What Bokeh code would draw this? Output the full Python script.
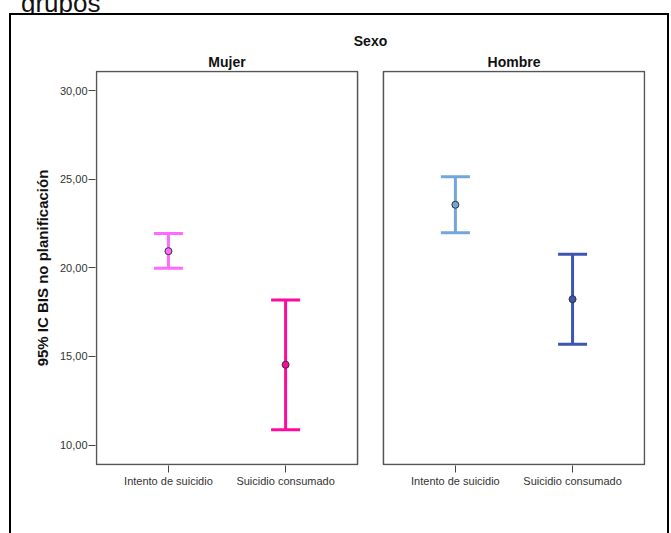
from bokeh.plotting import figure
from bokeh.layouts import column
from bokeh.models import (ColumnDataSource, Range1d, FixedTicker,
                          BoxAnnotation, LinearAxis, Div)
from bokeh.embed import file_html
from bokeh.resources import INLINE

# ---------------- data ----------------
sexos = ["Mujer", "Hombre"]
grupos = ["Intento de suicidio", "Suicidio consumado"]
sexo = ["Mujer", "Mujer", "Hombre", "Hombre"]
grupo = ["Intento de suicidio", "Suicidio consumado",
         "Intento de suicidio", "Suicidio consumado"]
media = [20.94, 14.53, 23.56, 18.23]
ic_inferior = [19.97, 10.86, 21.98, 15.69]
ic_superior = [21.94, 18.18, 25.14, 20.77]
y_ticks = [10, 15, 20, 25, 30]
y_tick_labels = ["10,00", "15,00", "20,00", "25,00", "30,00"]
colores = ["#FF6BFF", "#FF0A9C", "#73A6DA", "#3D55AE"]

titulo_grupo = "Sexo"
titulo_y = "95% IC BIS no planificación"
texto_previo = "grupos"

# ---------------- layout constants ----------------
FONT = "Liberation Sans"
HALF = 0.614        # half-width of a panel beyond its outer categories
GP = 0.449          # extra gap between the two panels (category units)
EPS_X = 0.0085      # ~1px so panel borders are not clipped
Y_LO, Y_HI = 8.9, 31.08
EPS_Y = 0.057

step = len(grupos) + GP
xpos = [sexos.index(s) * step + grupos.index(g) for s, g in zip(sexo, grupo)]
centros = [i * step + (len(grupos) - 1) / 2 for i in range(len(sexos))]
src = ColumnDataSource(dict(x=xpos, media=media, lo=ic_inferior,
                            hi=ic_superior, color=colores))

x_start = -HALF - EPS_X
x_end = (len(sexos) - 1) * step + (len(grupos) - 1) + HALF + EPS_X

p = figure(x_range=Range1d(x_start, x_end),
           y_range=Range1d(Y_LO - EPS_Y, Y_HI + EPS_Y),
           width=656, height=518, title=titulo_grupo,
           output_backend="svg", toolbar_location=None,
           min_border_left=84, min_border_right=22, min_border_top=55,
           min_border_bottom=68)
p.margin = (0, 0, 0, 11)
p.styles = {"box-shadow": "0 0 0 2px black"}
p.xgrid.visible = False
p.ygrid.visible = False
p.outline_line_color = None
p.background_fill_color = "white"
p.border_fill_color = "white"

p.title.align = "center"
p.title.text_font = FONT
p.title.text_font_size = "14px"
p.title.text_font_style = "bold"
p.title.text_color = "#111111"
p.title.standoff = 3

# x axis: one tick per category, labelled with the category name
xa = p.xaxis[0]
xa.ticker = FixedTicker(ticks=xpos, minor_ticks=[])
xa.major_label_overrides = dict(zip(xpos, grupo))
xa.axis_line_color = None
xa.major_tick_in = 0
xa.major_tick_out = 7
xa.major_tick_line_color = "#444444"
xa.minor_tick_line_color = None
xa.major_label_text_font = FONT
xa.major_label_text_font_size = "11px"
xa.major_label_text_color = "#333333"
xa.major_label_standoff = 2

# panel headings: an axis above the panels, one label per panel
top_axis = LinearAxis(ticker=FixedTicker(ticks=centros, minor_ticks=[]),
                      major_label_overrides=dict(zip(centros, sexos)),
                      axis_line_color=None, major_tick_line_color=None,
                      minor_tick_line_color=None, major_tick_in=0,
                      major_tick_out=0, major_label_standoff=1,
                      major_label_text_font=FONT,
                      major_label_text_font_size="14px",
                      major_label_text_font_style="bold",
                      major_label_text_color="#111111")
p.add_layout(top_axis, "above")

# y axis
ya = p.yaxis[0]
ya.ticker = FixedTicker(ticks=y_ticks, minor_ticks=[])
ya.major_label_overrides = dict(zip(y_ticks, y_tick_labels))
ya.axis_line_color = None
ya.major_tick_in = 0
ya.major_tick_out = 7
ya.major_tick_line_color = "#444444"
ya.minor_tick_line_color = None
ya.major_label_text_font = FONT
ya.major_label_text_font_size = "11px"
ya.major_label_text_color = "#333333"
ya.major_label_standoff = 1
ya.axis_label = titulo_y
ya.axis_label_text_font = FONT
ya.axis_label_text_font_size = "15px"
ya.axis_label_text_font_style = "bold"
ya.axis_label_text_color = "#111111"
ya.axis_label_standoff = 6

# panel boxes
for i, s in enumerate(sexos):
    left = i * step - HALF
    right = i * step + (len(grupos) - 1) + HALF
    p.add_layout(BoxAnnotation(left=left, right=right, bottom=Y_LO, top=Y_HI,
                               fill_alpha=0, line_color="#555555",
                               line_alpha=1, line_width=1.5,
                               level="underlay"))

# error bars
p.segment(x0="x", y0="lo", x1="x", y1="hi", source=src, line_color="color",
          line_width=3)
p.scatter(x="x", y="hi", source=src, marker="dash", size=29,
          line_color="color", line_width=3)
p.scatter(x="x", y="lo", source=src, marker="dash", size=29,
          line_color="color", line_width=3)
p.scatter(x="x", y="media", source=src, marker="circle", size=7,
          fill_color="color", line_color="#333333", line_width=1)

# caption text of the surrounding document, cut by the top of the page
cap = Div(text=('<div style="font-family:\'Liberation Sans\';font-size:26px;'
                'line-height:26px;color:#111111;margin-top:-17px;'
                'margin-left:21px;white-space:nowrap">' + texto_previo +
                '</div>'),
          width=200, height=15, margin=0, styles={"overflow": "hidden"})

root = column(cap, p, spacing=0)
open("out.html", "w").write(file_html(root, INLINE))
